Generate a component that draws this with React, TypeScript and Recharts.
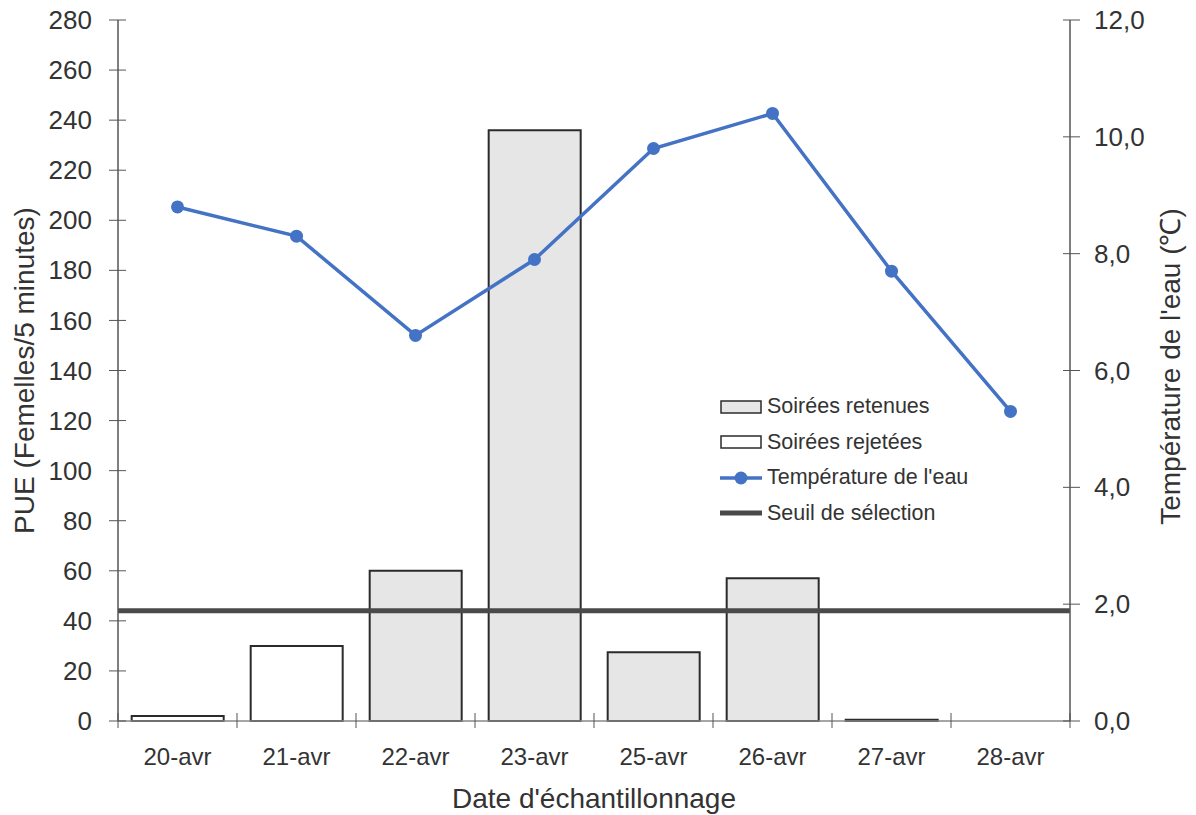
import React from 'react';
import { ComposedChart, Bar, Line, Cell, XAxis, YAxis, ReferenceLine, Legend, Label } from 'recharts';

const dates = ['20-avr', '21-avr', '22-avr', '23-avr', '25-avr', '26-avr', '27-avr', '28-avr'];
const pue = [2, 30, 60, 236, 27.5, 57, 0.5, 0];
const retenue = [false, false, true, true, true, true, false, false];
const temperature = [8.8, 8.3, 6.6, 7.9, 9.8, 10.4, 7.7, 5.3];
const seuil = 44;
const pueTicks = [0, 20, 40, 60, 80, 100, 120, 140, 160, 180, 200, 220, 240, 260, 280];
const tempTicks = [0, 2, 4, 6, 8, 10, 12];

const data = dates.map((d, i) => ({ date: d, pue: pue[i], temp: temperature[i], retenue: retenue[i] }));

const W = 1196;
const H = 815;
const LEFT_W = 118;
const RIGHT_W = 126;
const band = (W - LEFT_W - RIGHT_W) / dates.length;

const font = '"Liberation Sans", Arial, sans-serif';
const textColor = '#333';
const axisColor = '#555';
const blue = '#4472C4';
const grey = '#e6e6e6';
const barStroke = '#2b2b2b';
const seuilColor = '#4a4a4a';

const LeftTick = (props: any) => {
    const { x, y, payload } = props;
    return (
        <g>
            <line x1={x + 17} x2={x + 34} y1={y} y2={y} stroke={axisColor} strokeWidth={1} />
            <text x={x} y={y} dy="0.35em" textAnchor="end" fontSize={26} fill={textColor} fontFamily={font}>
                {payload.value}
            </text>
        </g>
    );
};

const RightTick = (props: any) => {
    const { x, y, payload } = props;
    return (
        <g>
            <line x1={x - 31} x2={x - 14} y1={y} y2={y} stroke={axisColor} strokeWidth={1} />
            <text x={x} y={y} dy="0.35em" textAnchor="start" fontSize={26} fill={textColor} fontFamily={font}>
                {payload.value.toFixed(1).replace('.', ',')}
            </text>
        </g>
    );
};

const BottomTick = (props: any) => {
    const { x, y, payload, index } = props;
    const ty = y - 27;
    return (
        <g>
            <line x1={x - band / 2} x2={x - band / 2} y1={ty - 8} y2={ty + 7} stroke={axisColor} strokeWidth={1} />
            {index === dates.length - 1 && (
                <line x1={x + band / 2} x2={x + band / 2} y1={ty - 8} y2={ty + 7} stroke={axisColor} strokeWidth={1} />
            )}
            <text x={x} y={y} dy="0.71em" textAnchor="middle" fontSize={24} fill={textColor} fontFamily={font}>
                {payload.value}
            </text>
        </g>
    );
};

const legendItems = [
    { label: 'Soirées retenues', kind: 'retenue' },
    { label: 'Soirées rejetées', kind: 'rejetee' },
    { label: "Température de l'eau", kind: 'temp' },
    { label: 'Seuil de sélection', kind: 'seuil' },
];

const LegendIcon = ({ kind }: { kind: string }) => (
    <svg width={42} height={14} style={{ display: 'block' }}>
        {kind === 'retenue' && <rect x={1} y={1} width={40} height={12} fill={grey} stroke={barStroke} strokeWidth={1.5} />}
        {kind === 'rejetee' && <rect x={1} y={1} width={40} height={12} fill="#fff" stroke={barStroke} strokeWidth={1.5} />}
        {kind === 'temp' && (
            <g>
                <line x1={0} x2={42} y1={7} y2={7} stroke={blue} strokeWidth={3.5} />
                <circle cx={21} cy={7} r={6.5} fill={blue} />
            </g>
        )}
        {kind === 'seuil' && <line x1={0} x2={42} y1={7} y2={7} stroke={seuilColor} strokeWidth={5} />}
    </svg>
);

const renderLegend = () => (
    <div style={{ fontFamily: font, fontSize: 21.5, color: textColor }}>
        {legendItems.map((it) => (
            <div key={it.label} style={{ display: 'flex', alignItems: 'center', height: 35.5 }}>
                <LegendIcon kind={it.kind} />
                <span style={{ marginLeft: 5, whiteSpace: 'nowrap' }}>{it.label}</span>
            </div>
        ))}
    </div>
);

const App: React.FC = () => {
    return (
        <div style={{ position: 'absolute', left: 0, top: 0, background: '#fff' }}>
            <ComposedChart width={W} height={H} data={data} margin={{ top: 20, right: 0, left: 0, bottom: 0 }} barCategoryGap="11.5%">
                <XAxis
                    dataKey="date"
                    height={94}
                    tickSize={7}
                    tickMargin={20}
                    tickLine={false}
                    tick={<BottomTick />}
                    interval={0}
                    stroke="#888"
                    strokeWidth={1.5}
                >
                    <Label
                        content={(p: any) => {
                            const vb = p.viewBox;
                            return (
                                <text x={vb.x + vb.width / 2} y={vb.y + 77} dy="0.35em" textAnchor="middle" fontSize={28} fill={textColor} fontFamily={font}>
                                    Date d'échantillonnage
                                </text>
                            );
                        }}
                    />
                </XAxis>
                <YAxis
                    yAxisId="left"
                    width={LEFT_W}
                    domain={[0, 280]}
                    ticks={pueTicks}
                    interval={0}
                    tickSize={9}
                    tickMargin={17}
                    tickLine={false}
                    tick={<LeftTick />}
                    stroke={axisColor}
                    strokeWidth={1.5}
                >
                    <Label
                        content={(p: any) => {
                            const vb = p.viewBox;
                            const cx = vb.x + 24;
                            const cy = vb.y + vb.height / 2;
                            return (
                                <text x={cx} y={cy} dy="0.35em" textAnchor="middle" fontSize={28} fill={textColor} fontFamily={font} transform={`rotate(-90 ${cx} ${cy})`}>
                                    PUE (Femelles/5 minutes)
                                </text>
                            );
                        }}
                    />
                </YAxis>
                <YAxis
                    yAxisId="right"
                    orientation="right"
                    width={RIGHT_W}
                    domain={[0, 12]}
                    ticks={tempTicks}
                    interval={0}
                    tickSize={8}
                    tickMargin={16}
                    tickLine={false}
                    tick={<RightTick />}
                    stroke={axisColor}
                    strokeWidth={1.5}
                >
                    <Label
                        content={(p: any) => {
                            const vb = p.viewBox;
                            const cx = vb.x + 100;
                            const cy = vb.y + vb.height / 2 - 4;
                            return (
                                <text x={cx} y={cy} dy="0.35em" textAnchor="middle" fontSize={28} fill={textColor} fontFamily={font} transform={`rotate(-90 ${cx} ${cy})`}>
                                    Température de l'eau (℃)
                                </text>
                            );
                        }}
                    />
                </YAxis>
                <Legend
                    layout="vertical"
                    align="center"
                    verticalAlign="middle"
                    content={renderLegend}
                    wrapperStyle={{ left: 720, top: 389, width: 320, height: 142 }}
                />
                <Bar yAxisId="left" dataKey="pue" stroke={barStroke} strokeWidth={2} isAnimationActive={false}>
                    {data.map((d) => (
                        <Cell key={d.date} fill={d.retenue ? grey : '#fff'} />
                    ))}
                </Bar>
                <ReferenceLine yAxisId="left" y={seuil} stroke={seuilColor} strokeWidth={5} />
                <Line
                    yAxisId="right"
                    type="linear"
                    dataKey="temp"
                    stroke={blue}
                    strokeWidth={3.5}
                    dot={{ r: 6.5, fill: blue, stroke: blue, strokeWidth: 0 }}
                    activeDot={false}
                    isAnimationActive={false}
                />
            </ComposedChart>
        </div>
    );
};

export default App;
